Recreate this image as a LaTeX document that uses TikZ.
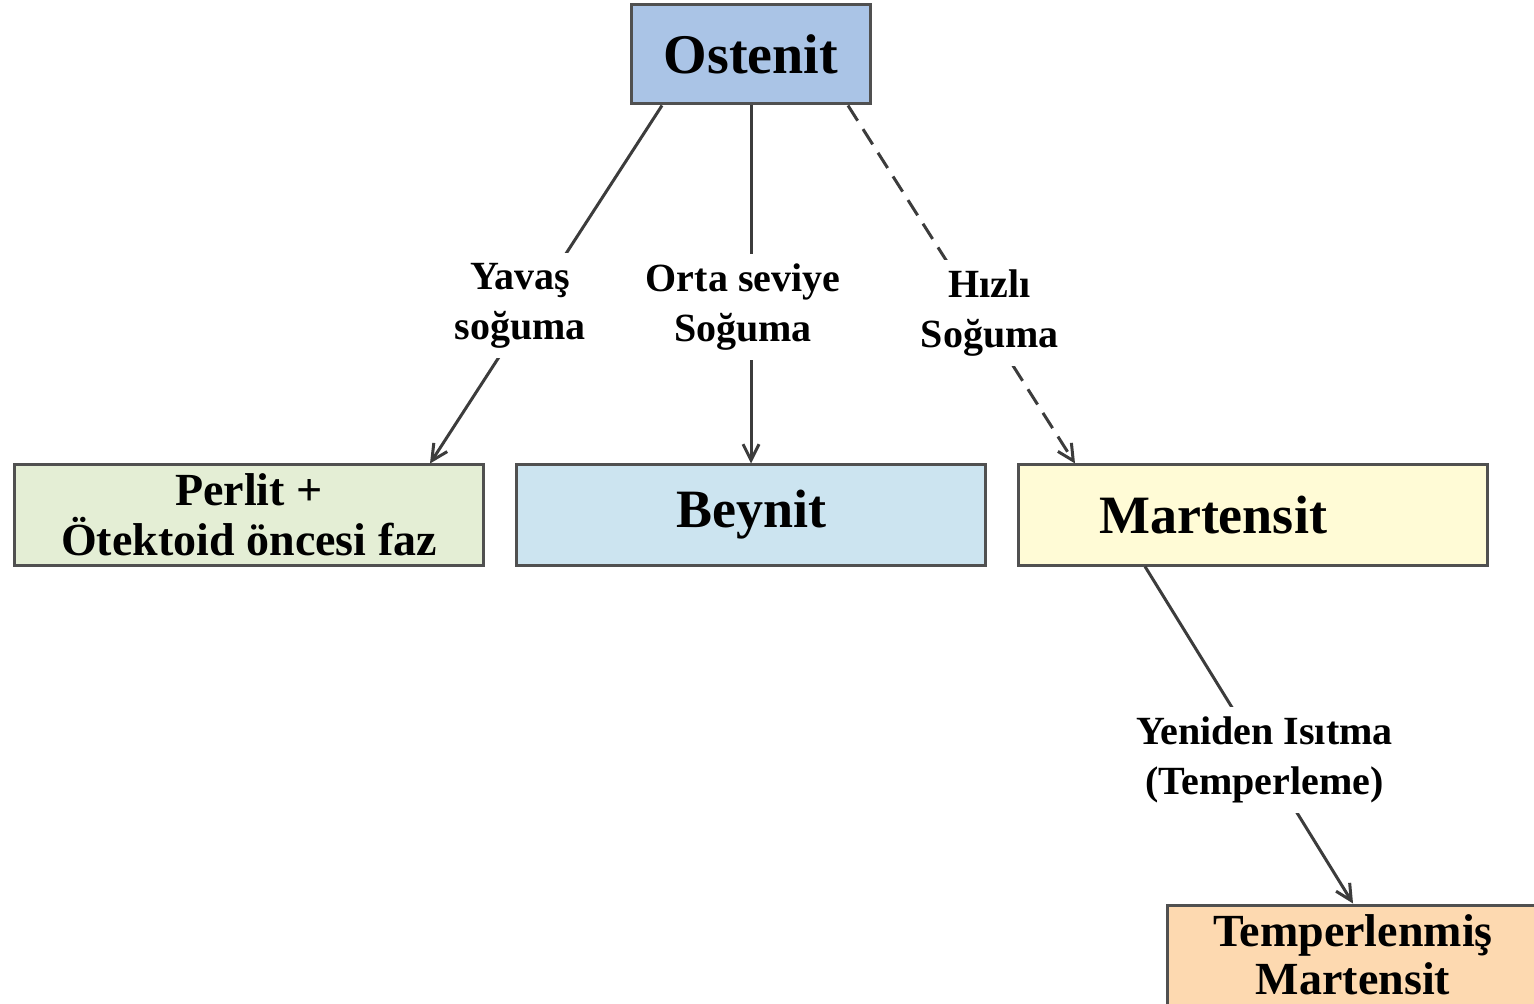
\documentclass[tikz,border=0pt]{standalone}
\usepackage{fontspec}
\setmainfont{Liberation Serif}
\usetikzlibrary{arrows.meta}

\definecolor{ostblue}{RGB}{170,196,230}
\definecolor{perlgreen}{RGB}{228,238,213}
\definecolor{beynblue}{RGB}{204,228,240}
\definecolor{martyellow}{RGB}{255,251,214}
\definecolor{temppeach}{RGB}{253,217,176}
\definecolor{boxgray}{RGB}{80,80,80}
\definecolor{linegray}{RGB}{60,60,60}

\tikzset{
		phase/.style      = {shape=rectangle, draw=boxgray, line width=1.5pt, solid,
				align=center, inner sep=0pt,
				minimum width=234.5pt, minimum height=50pt,
				font=\bfseries\fontsize{27}{30}\selectfont},
		austenite/.style  = {phase, fill=ostblue, minimum width=119.5pt,
				minimum height=49.5pt, font=\bfseries\fontsize{28}{30}\selectfont},
		pearlite/.style   = {phase, fill=perlgreen, font=\bfseries\fontsize{23}{25}\selectfont},
		bainite/.style    = {phase, fill=beynblue},
		martensite/.style = {phase, fill=martyellow},
		tempered/.style   = {phase, fill=temppeach, minimum width=186pt,
				font=\bfseries\fontsize{23}{24}\selectfont},
		route/.style      = {fill=white, align=center, inner sep=5pt,
				font=\bfseries\fontsize{20}{25}\selectfont}
	}

\begin{document}
\begin{tikzpicture}
		[x = 0.5pt, y = 0.5pt,
			grow   = down,
			level distance          = 230.25pt,
			edge from parent/.style = {draw=linegray, line width=1.5pt,
					-{Straight Barb[length=8pt,width=8pt]}},
			level 1/.style = {sibling distance = 251pt},
			level 2/.style = {level distance = 220pt},
		]
		\useasboundingbox (0,0) rectangle (1534,-1004);
		\node [austenite] (ost) at (751,-54.5) {Ostenit}
		child [edge from parent path = {([xshift=-44.5pt]\tikzparentnode.south) -- ([xshift=90.5pt]\tikzchildnode.north)}]
			{ node[pearlite] (perl) {Perlit +\\Ötektoid öncesi faz}
				edge from parent node[route, pos=.56, xshift=-6pt] {Yavaş\\soğuma}
			}
		child { node[bainite] (beyn) {Beynit}
				edge from parent node[route, pos=.5625, xshift=-4pt] {Orta seviye\\Soğuma}
			}
		child [edge from parent path = {([xshift=48.5pt]\tikzparentnode.south) -- ([xshift=-89pt]\tikzchildnode.north)}]
			{ node[martensite] (mart) {Martensit\hspace*{40pt}}
				% tempering step hangs below martensite
				child [edge from parent path = {([xshift=-54pt]\tikzparentnode.south) -- (\tikzchildnode.north)}]
					{ node[tempered, xshift=50pt] (temp) {Temperlenmiş\\Martensit}
						edge from parent[solid] node[route, pos=.574] {Yeniden Isıtma\\(Temperleme)}
					}
				edge from parent[dash pattern=on 9pt off 5pt]
					node[route, pos=.58, xshift=5pt] {Hızlı\\Soğuma}
			}
		;
	\end{tikzpicture}
\end{document}
